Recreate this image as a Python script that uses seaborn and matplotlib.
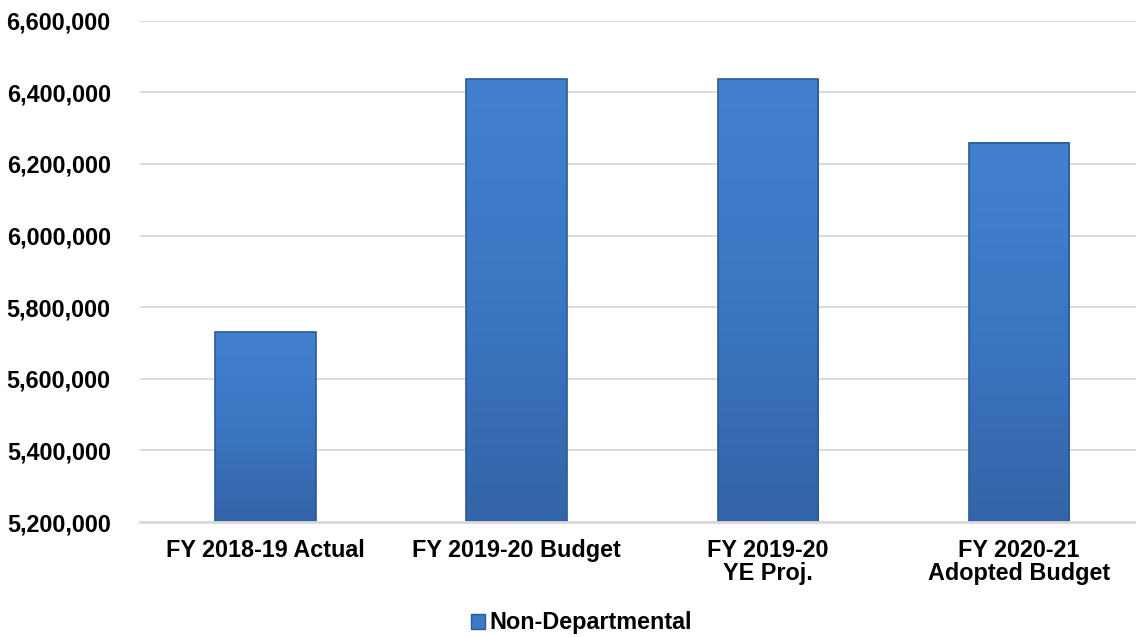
import numpy as np
import pandas as pd
import seaborn as sns
import matplotlib.pyplot as plt
from matplotlib.colors import LinearSegmentedColormap
from matplotlib.patches import Patch
from matplotlib.ticker import FuncFormatter

categories = ['FY 2018-19 Actual', 'FY 2019-20 Budget', 'FY 2019-20\nYE Proj.', 'FY 2020-21\nAdopted Budget']
values = [5730000, 6436000, 6436000, 6259000]
series_name = 'Non-Departmental'
y_ticks = [5200000, 5400000, 5600000, 5800000, 6000000, 6200000, 6400000, 6600000]

sns.set_style('white')
plt.rcParams['font.family'] = ['Liberation Sans', 'DejaVu Sans']
plt.rcParams['font.weight'] = 'bold'

df = pd.DataFrame({'category': categories, 'value': values})

fig = plt.figure(figsize=(11.36, 6.37), dpi=100)
ax = fig.add_axes([140 / 1136, 1 - 522 / 637, 1 - 140 / 1136, (522 - 20.7) / 637])

bar_color = '#3D7CC9'
sns.barplot(data=df, x='category', y='value', color=bar_color, width=0.4,
            edgecolor='#2C5A98', linewidth=1.2, saturation=1, ax=ax, zorder=3)

ymin, ymax = 5200000, 6600000
ax.set_ylim(ymin, ymax)
ax.set_xlim(-0.5, 3.466)

# vertical shading inside each bar, darker at the bottom, lighter at the top
grad = LinearSegmentedColormap.from_list('barshade', ['#3464A8', '#3B76C2', '#4381CF'])
for p in list(ax.patches):
    x0, w = p.get_x(), p.get_width()
    top = p.get_y() + p.get_height()
    bot = max(p.get_y(), ymin)
    ax.imshow(np.linspace(0, 1, 256).reshape(-1, 1), cmap=grad, origin='lower',
              extent=[x0, x0 + w, bot, top], aspect='auto', zorder=3.5)
    p.set_zorder(4)
    p.set_facecolor('none')
ax.set_xlim(-0.5, 3.466)
ax.set_ylim(ymin, ymax)

ax.set_yticks(y_ticks)
ax.yaxis.set_major_formatter(FuncFormatter(lambda v, p: '{:,.0f}'.format(v)))
ax.grid(axis='y', color='#D9D9D9', linewidth=1.3, zorder=0)
ax.set_axisbelow(True)
ax.set_xlabel('')
ax.set_ylabel('')
for s in ['top', 'right', 'left']:
    ax.spines[s].set_visible(False)
ax.spines['bottom'].set_color('#D9D9D9')
ax.spines['bottom'].set_linewidth(2)
ax.spines['bottom'].set_zorder(5)
ax.tick_params(axis='both', length=0, labelsize=16.8, colors='black')
ax.tick_params(axis='y', pad=21)
ax.tick_params(axis='x', pad=12)
for lab in ax.get_xticklabels() + ax.get_yticklabels():
    lab.set_fontweight('bold')
for lab in ax.get_xticklabels():
    lab.set_multialignment('center')
    lab.set_linespacing(1.0)

handle = Patch(facecolor='#3C79C6', edgecolor='#2C5A98', label=series_name)
fig.legend(handles=[handle], loc='center', bbox_to_anchor=(0.512, 0.022), frameon=False,
           prop={'size': 16.8, 'weight': 'bold'}, labelcolor='black',
           handlelength=0.6, handleheight=0.6, handletextpad=0.2)

fig.savefig('out.png', dpi=100)
